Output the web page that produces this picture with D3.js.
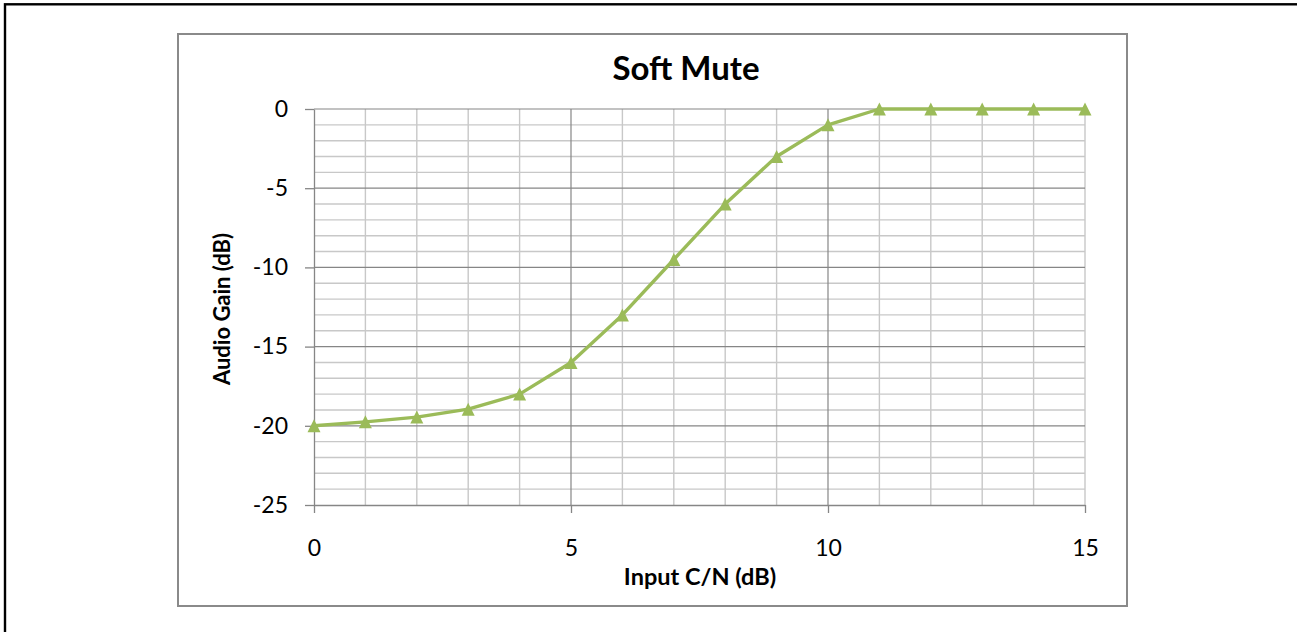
<!DOCTYPE html>
<html>
<head>
<meta charset="utf-8">
<script src="https://cdn.jsdelivr.net/npm/d3@7"></script>
<style>
  body { margin: 0; background: #fff; }
  svg { display: block; font-family: Lato, "Open Sans", sans-serif; }
</style>
</head>
<body>
<svg id="chart"></svg>
<script>
(function () {
    'use strict';

    const width = 1297;
    const height = 632;

    // data
    const inputCN = [0, 1, 2, 3, 4, 5, 6, 7, 8, 9, 10, 11, 12, 13, 14, 15];
    const audioGain = [-20, -19.75, -19.45, -18.95, -18, -16, -13, -9.5, -6, -3, -1, 0, 0, 0, 0, 0];

    const xTicks = [0, 5, 10, 15];
    const yTicks = [0, -5, -10, -15, -20, -25];
    const xMinor = d3.range(0, 16, 1);
    const yMinor = d3.range(0, -26, -1);

    const title = 'Soft Mute';
    const xLabel = 'Input C/N (dB)';
    const yLabel = 'Audio Gain (dB)';

    const green = '#9bbb59';
    const majorGrid = '#868686';
    const minorGrid = '#c8c8c8';

    const plot = { left: 314, right: 1085, top: 109, bottom: 505 };

    const x = d3.scaleLinear()
        .domain([0, 15])
        .range([plot.left, plot.right]);

    const y = d3.scaleLinear()
        .domain([-25, 0])
        .range([plot.bottom, plot.top]);

    const svg = d3.select('#chart')
        .attr('width', width)
        .attr('height', height)
        .attr('viewBox', [0, 0, width, height]);

    // page frame (black) and chart area border (grey)
    svg.append('rect')
        .attr('x', 5).attr('y', 4.3)
        .attr('width', width + 20).attr('height', height + 20)
        .attr('fill', 'none').attr('stroke', '#000').attr('stroke-width', 2.4);

    svg.append('rect')
        .attr('x', 178).attr('y', 34)
        .attr('width', 949).attr('height', 572)
        .attr('fill', '#fff').attr('stroke', '#8a8a8a').attr('stroke-width', 2);

    // minor gridlines
    const grid = svg.append('g').attr('class', 'grid');
    grid.selectAll('line.vminor')
        .data(xMinor.filter(d => !xTicks.includes(d) || d === 15))
        .join('line')
        .attr('x1', d => x(d)).attr('x2', d => x(d))
        .attr('y1', plot.top).attr('y2', plot.bottom)
        .attr('stroke', minorGrid).attr('stroke-width', 1.4);
    grid.selectAll('line.hminor')
        .data(yMinor.filter(d => !yTicks.includes(d)))
        .join('line')
        .attr('x1', plot.left).attr('x2', plot.right)
        .attr('y1', d => y(d)).attr('y2', d => y(d))
        .attr('stroke', minorGrid).attr('stroke-width', 1.4);

    // major gridlines
    grid.selectAll('line.vmajor')
        .data(xTicks.filter(d => d > 0 && d < 15))
        .join('line')
        .attr('x1', d => x(d)).attr('x2', d => x(d))
        .attr('y1', plot.top).attr('y2', plot.bottom)
        .attr('stroke', majorGrid).attr('stroke-width', 1.2);
    grid.selectAll('line.hmajor')
        .data(yTicks.filter(d => d > -25))
        .join('line')
        .attr('x1', plot.left).attr('x2', plot.right)
        .attr('y1', d => y(d)).attr('y2', d => y(d))
        .attr('stroke', majorGrid).attr('stroke-width', 1.2);

    // axes (plain hyphen minus, like the original)
    const fmt = d => String(d);
    const yAxis = svg.append('g')
        .attr('transform', `translate(${plot.left},0)`)
        .call(d3.axisLeft(y).tickValues(yTicks).tickFormat(fmt)
            .tickSize(9).tickSizeOuter(0).tickPadding(17));
    const xAxis = svg.append('g')
        .attr('transform', `translate(0,${plot.bottom})`)
        .call(d3.axisBottom(x).tickValues(xTicks).tickFormat(fmt)
            .tickSize(8).tickSizeOuter(0));

    [yAxis, xAxis].forEach(g => {
        g.select('.domain').attr('stroke', majorGrid).attr('stroke-width', 1.3);
        g.selectAll('.tick line').attr('stroke', majorGrid).attr('stroke-width', 1.3);
        g.selectAll('.tick text')
            .attr('fill', '#000')
            .style('font-size', '23px')
            .style('font-family', 'Lato, sans-serif');
    });
    xAxis.selectAll('.tick text').attr('dy', 0).attr('y', 51);

    // series
    const pts = inputCN.map((d, i) => [d, audioGain[i]]);

    svg.append('path')
        .datum(pts)
        .attr('fill', 'none')
        .attr('stroke', green)
        .attr('stroke-width', 3.4)
        .attr('stroke-linejoin', 'round')
        .attr('d', d3.line().x(d => x(d[0])).y(d => y(d[1])));

    // excel-style triangle: as tall as it is wide, centred on the point
    const excelTriangle = {
        draw(ctx, size) {
            const h = Math.sqrt(size) / 2;
            ctx.moveTo(0, -h);
            ctx.lineTo(h, h);
            ctx.lineTo(-h, h);
            ctx.closePath();
        }
    };
    const tri = d3.symbol().type(excelTriangle).size(13 * 13);
    svg.append('g').selectAll('path')
        .data(pts)
        .join('path')
        .attr('transform', d => `translate(${x(d[0])},${y(d[1])})`)
        .attr('d', tri)
        .attr('fill', green);

    // labels
    svg.append('text')
        .attr('x', 686).attr('y', 79.5)
        .attr('text-anchor', 'middle')
        .style('font-size', '33px').style('font-weight', 'bold')
        .text(title);

    svg.append('text')
        .attr('x', 700).attr('y', 585)
        .attr('text-anchor', 'middle')
        .style('font-size', '23.5px').style('font-weight', 'bold')
        .text(xLabel);

    svg.append('text')
        .attr('transform', 'translate(230,309) rotate(-90)')
        .attr('text-anchor', 'middle')
        .style('font-size', '22px').style('font-weight', 'bold')
        .text(yLabel);
})();
</script>
</body>
</html>
